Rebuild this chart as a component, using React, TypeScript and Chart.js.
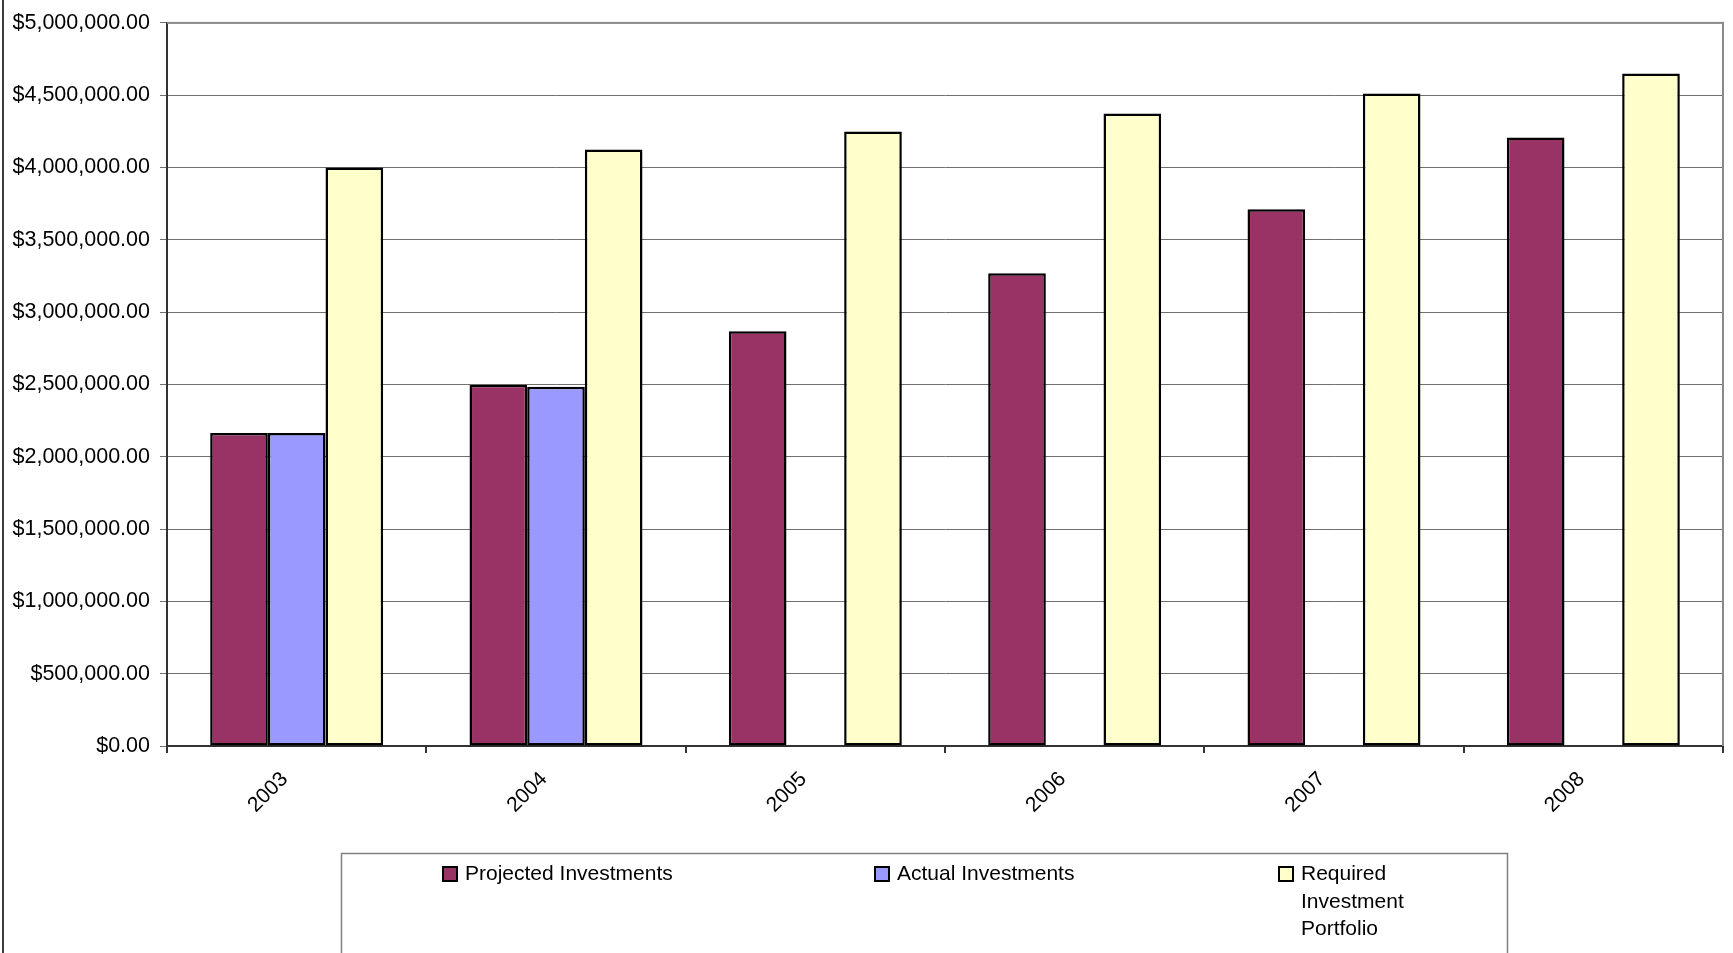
import React, { useEffect, useRef } from 'react';
import { Chart, registerables } from 'chart.js';

Chart.register(...registerables);

const categories = ['2003', '2004', '2005', '2006', '2007', '2008'];
const projectedInvestments = [2164000, 2498000, 2868000, 3269000, 3711000, 4208000];
const actualInvestments = [2164000, 2484000, null, null, null, null];
const requiredPortfolio = [4000000, 4125000, 4249000, 4374000, 4512000, 4650000];
const seriesNames = ['Projected Investments', 'Actual Investments', 'Required Investment Portfolio'];
const legendLines = [['Projected Investments'], ['Actual Investments'], ['Required', 'Investment', 'Portfolio']];
const seriesColors = ['#993366', '#9999FF', '#FFFFCC'];
const yMin = 0;
const yMax = 5000000;
const yStep = 500000;

const FONT = '"Liberation Sans", Arial, sans-serif';
const W = 1733;
const H = 953;

const formatMoney = (v: number) =>
  '$' + Number(v).toLocaleString('en-US', { minimumFractionDigits: 2, maximumFractionDigits: 2 });

const decorPlugin = {
  id: 'decor',
  afterDraw(chart: any) {
    const { ctx, chartArea } = chart;
    ctx.save();
    // outer chart border (left edge)
    ctx.fillStyle = '#3c3c3c';
    ctx.fillRect(2, 0, 2, chart.height);
    // plot area border top/right
    ctx.fillStyle = '#8a8a8a';
    ctx.fillRect(chartArea.left, chartArea.top - 1, chartArea.right - chartArea.left + 1, 2);
    ctx.fillRect(chartArea.right - 1, chartArea.top - 1, 2, chartArea.bottom - chartArea.top + 1);
    // legend box
    ctx.strokeStyle = '#808080';
    ctx.lineWidth = 1.5;
    ctx.strokeRect(341.5, 853.5, 1166, 200);
    const itemX = [443, 875, 1279];
    ctx.font = '21px ' + FONT;
    ctx.textBaseline = 'alphabetic';
    ctx.textAlign = 'left';
    chart.data.datasets.forEach((ds: any, i: number) => {
      const x = itemX[i];
      ctx.fillStyle = ds.backgroundColor;
      ctx.fillRect(x, 867, 14, 14);
      ctx.strokeStyle = '#000';
      ctx.lineWidth = 2;
      ctx.strokeRect(x, 867, 14, 14);
      ctx.fillStyle = '#000';
      legendLines[i].forEach((line, j) => {
        ctx.fillText(line, x + 22, 880 + j * 27.5);
      });
    });
    ctx.restore();
  },
};

export default function App() {
  const ref = useRef<HTMLCanvasElement | null>(null);
  useEffect(() => {
    if (!ref.current) return;
    const mk = (i: number, data: (number | null)[]) => ({
      label: seriesNames[i],
      data,
      backgroundColor: seriesColors[i],
      borderColor: '#000',
      borderWidth: 2.5,
      borderSkipped: false,
    });
    const chart = new Chart(ref.current, {
      type: 'bar',
      data: {
        labels: categories,
        datasets: [
          mk(0, projectedInvestments),
          mk(1, actualInvestments),
          mk(2, requiredPortfolio),
        ] as any,
      },
      options: {
        animation: false,
        responsive: false,
        devicePixelRatio: 1,
        datasets: { bar: { categoryPercentage: 0.667, barPercentage: 1.0 } },
        layout: { padding: { left: 0, right: 10, top: 20, bottom: 0 } },
        plugins: {
          legend: { display: false },
          tooltip: { enabled: false },
          title: { display: false },
        },
        scales: {
          x: {
            offset: true,
            grid: {
              display: true,
              offset: true,
              drawOnChartArea: false,
              drawTicks: true,
              tickLength: 7,
              color: '#333',
              lineWidth: 2,
            },
            border: { display: true, color: '#333', width: 2 },
            ticks: {
              color: '#000',
              font: { family: FONT, size: 21 },
              maxRotation: 45,
              minRotation: 45,
              padding: 14,
              labelOffset: -12,
              autoSkip: false,
            },
            afterFit: (scale: any) => {
              scale.height = H - 746;
            },
          },
          y: {
            min: yMin,
            max: yMax,
            grid: {
              color: '#707070',
              lineWidth: 1,
              drawTicks: true,
              tickLength: 7,
            },
            border: { display: true, color: '#333', width: 2 },
            ticks: {
              stepSize: yStep,
              color: '#000',
              font: { family: FONT, size: 21.5 },
              padding: 10,
              callback: (v: any) => formatMoney(v),
            },
            afterFit: (scale: any) => {
              scale.width = 167;
            },
          },
        },
      },
      plugins: [decorPlugin],
    });
    return () => chart.destroy();
  }, []);
  return (
    <div style={{ position: 'absolute', left: 0, top: 0, width: W, height: H, background: '#fff' }}>
      <canvas ref={ref} width={W} height={H} style={{ display: 'block', width: W, height: H }} />
    </div>
  );
}
